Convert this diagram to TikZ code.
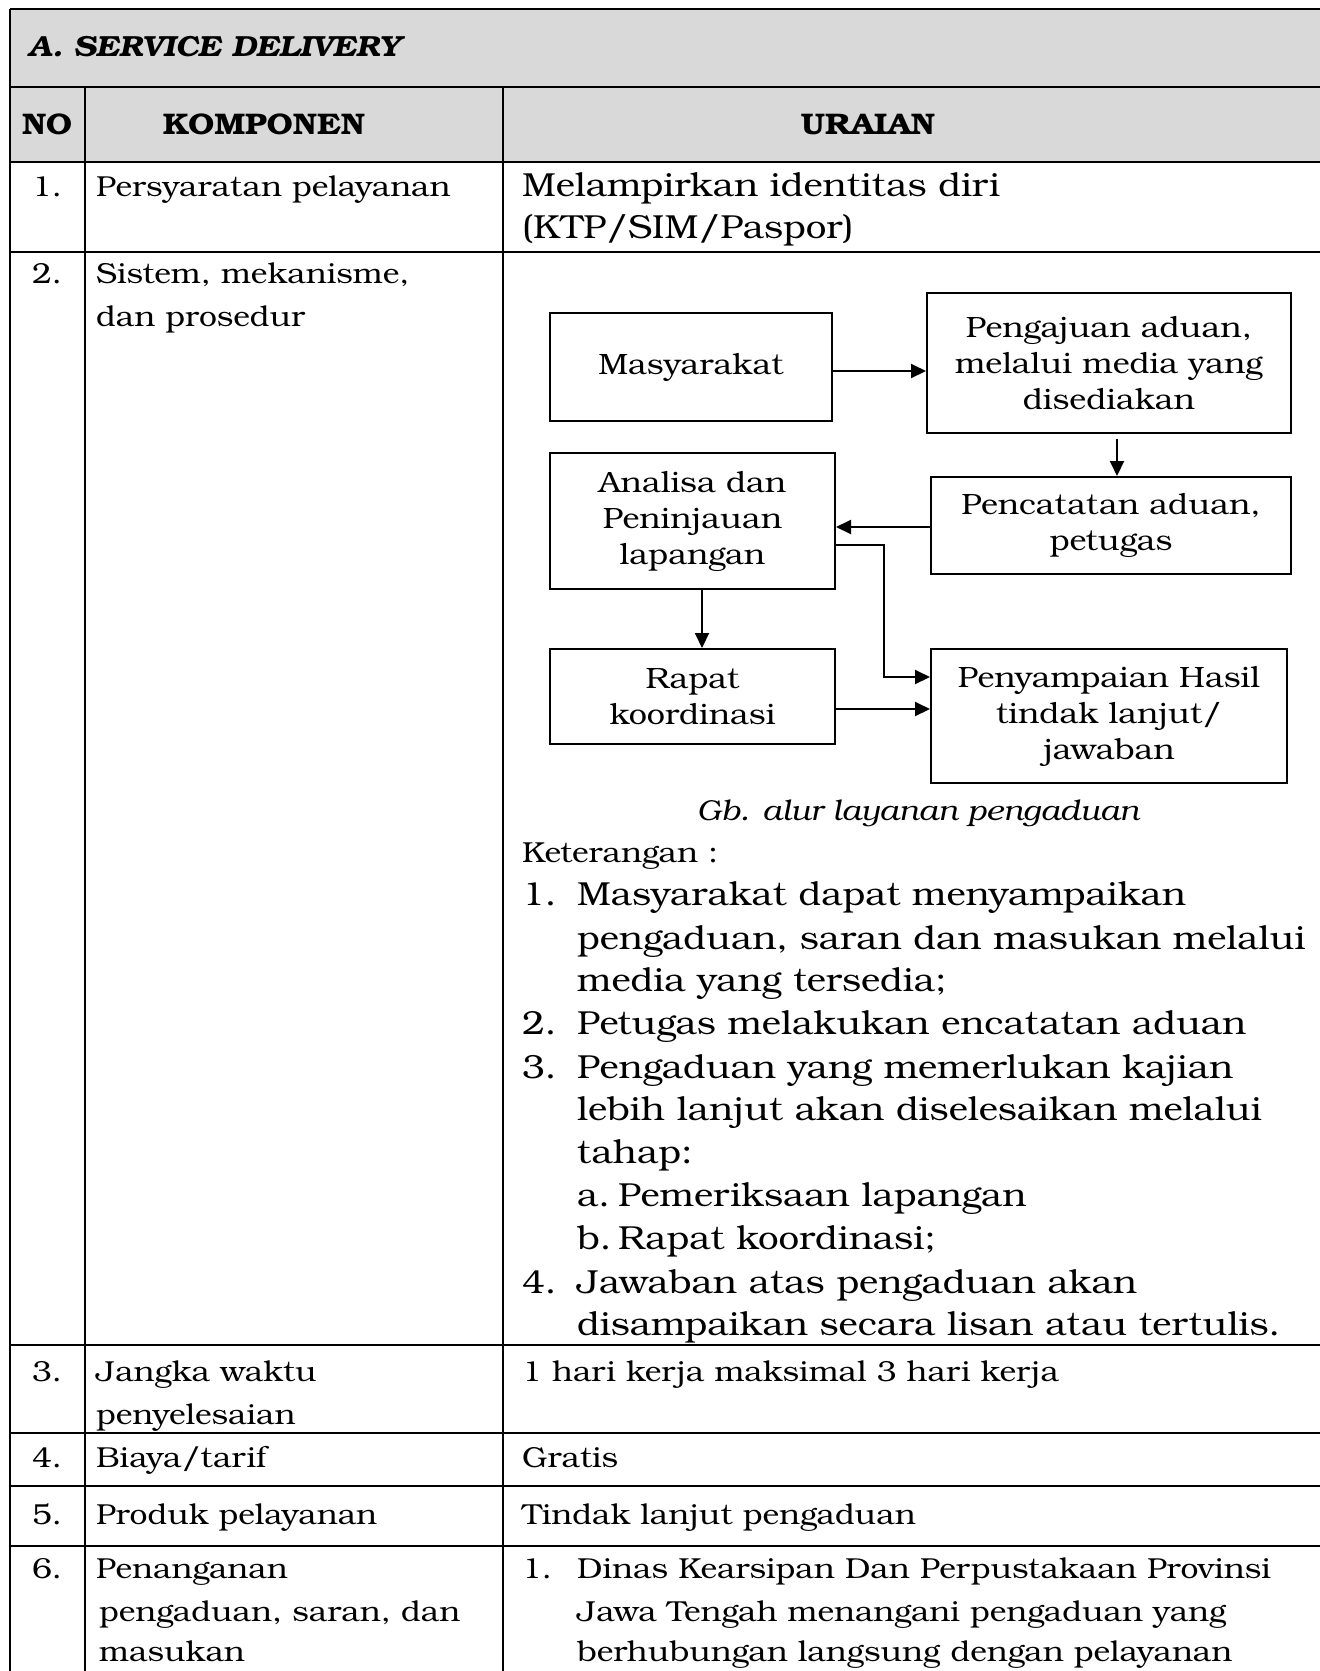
\documentclass[tikz,border=0pt]{standalone}
\usepackage{fontspec}
\setmainfont[FakeStretch=1.1]{TeX Gyre Bonum}
\usetikzlibrary{arrows.meta}
\definecolor{headgray}{HTML}{D9D9D9}

\begin{document}
\begin{tikzpicture}[x=1pt,y=-1pt,
  grid/.style={line width=2.6pt},
  box/.style={draw, line width=2pt, align=center, inner sep=0pt,
    font=\fontsize{29.4}{36}\selectfont},
  arr/.style={line width=2pt, -{Triangle[length=15pt,width=14pt]}},
  cell/.style={anchor=mid west, inner sep=0pt, font=\fontsize{28.9}{43}\selectfont},
  num/.style={anchor=mid, inner sep=0pt, font=\fontsize{28.9}{43}\selectfont},
  head/.style={anchor=mid, inner sep=0pt, font=\fontsize{29.8}{36}\selectfont\bfseries},
  item/.style={anchor=mid west, inner sep=0pt, font=\fontsize{33.3}{43}\selectfont},
]
\useasboundingbox (0,0) rectangle (1320,1671);

% header bands
\fill[headgray] (10,9) rectangle (1330,162);

% table rules
\draw[grid] (10,9) -- (1330,9);
\draw[grid] (10,87) -- (1330,87);
\draw[grid] (10,162) -- (1330,162);
\draw[grid] (10,252) -- (1330,252);
\draw[grid] (10,1345) -- (1330,1345);
\draw[grid] (10,1433) -- (1330,1433);
\draw[grid] (10,1486) -- (1330,1486);
\draw[grid] (10,1546) -- (1330,1546);
\draw[grid] (10,9) -- (10,1690);
\draw[grid] (85,87) -- (85,1690);
\draw[grid] (503,87) -- (503,1690);

% title and column heads
\node[anchor=mid west, inner sep=0pt, font=\fontsize{29.1}{36}\selectfont\bfseries\itshape] (title) at (28,54) {A. SERVICE DELIVERY};
\node[head] (hno) at (47,132) {NO};
\node[head] (hkomp) at (264,132) {KOMPONEN};
\node[head] (hur) at (868,132) {URAIAN};

% row 1
\node[num] (n1) at (47,194) {1.};
\node[cell] (k1) at (96,194) {Persyaratan pelayanan};
\node[item] (u1a) at (522,194) {Melampirkan identitas diri};
\node[item] (u1b) at (522,236) {(KTP/SIM/Paspor)};

% row 2
\node[num] (n2) at (47,281) {2.};
\node[cell] (k2a) at (96,281) {Sistem, mekanisme,};
\node[cell] (k2b) at (96,324) {dan prosedur};

% flow chart
\node[box, minimum width=282pt, minimum height=108pt] (mas) at (691,367) {Masyarakat};
\node[box, minimum width=364pt, minimum height=140pt] (peng) at (1109,363) {Pengajuan aduan,\\melalui media yang\\disediakan};
\node[box, minimum width=285pt, minimum height=136pt] (anal) at (692.5,521) {Analisa dan\\Peninjauan\\lapangan};
\node[box, minimum width=360pt, minimum height=97pt] (penc) at (1111,525.5) {Pencatatan aduan,\\petugas};
\node[box, minimum width=285pt, minimum height=95pt] (rapat) at (692.5,696.5) {Rapat\\koordinasi};
\node[box, minimum width=356pt, minimum height=134pt] (peny) at (1109,716) {Penyampaian Hasil\\tindak lanjut/\\jawaban};

\coordinate (pengout) at (1117,439);
\draw[arr] (mas.east |- 0,371) -- (peng.west |- 0,371);
\draw[arr] (pengout) -- (penc.north -| pengout);
\draw[arr] (penc.west |- 0,527) -- (anal.east |- 0,527);
\draw[arr] (anal.east |- 0,545) -| (884,677) -- (peny.west |- 0,677);
\draw[arr] (anal.south -| 702,0) -- (rapat.north -| 702,0);
\draw[arr] (rapat.east |- 0,709) -- (peny.west |- 0,709);

\node[anchor=mid, inner sep=0pt, font=\fontsize{28.8}{43}\selectfont\itshape] (cap) at (918,818) {Gb. alur layanan pengaduan};

% notes
\node[cell] (ket) at (522,860) {Keterangan :};
\node[item] (i1n) at (522,903) {1.};
\node[item] (i1a) at (577,903) {Masyarakat dapat menyampaikan};
\node[item] (i1b) at (577,947) {pengaduan, saran dan masukan melalui};
\node[item] (i1c) at (577,989) {media yang tersedia;};
\node[item] (i2n) at (522,1032) {2.};
\node[item] (i2a) at (577,1032) {Petugas melakukan encatatan aduan};
\node[item] (i3n) at (522,1076) {3.};
\node[item] (i3a) at (577,1076) {Pengaduan yang memerlukan kajian};
\node[item] (i3b) at (577,1118) {lebih lanjut akan diselesaikan melalui};
\node[item] (i3c) at (577,1161) {tahap:};
\node[item] (iaa) at (577,1204) {a.};
\node[item] (iat) at (618,1204) {Pemeriksaan lapangan};
\node[item] (ibb) at (577,1247) {b.};
\node[item] (ibt) at (618,1247) {Rapat koordinasi;};
\node[item] (i4n) at (522,1291) {4.};
\node[item] (i4a) at (577,1291) {Jawaban atas pengaduan akan};
\node[item] (i4b) at (577,1333) {disampaikan secara lisan atau tertulis.};

% row 3
\node[num] (n3) at (47,1379) {3.};
\node[cell] (k3a) at (96,1379) {Jangka waktu};
\node[cell] (k3b) at (96,1422) {penyelesaian};
\node[cell] (u3) at (522,1379) {1 hari kerja maksimal 3 hari kerja};

% row 4
\node[num] (n4) at (47,1465) {4.};
\node[cell] (k4) at (96,1465) {Biaya/tarif};
\node[cell] (u4) at (522,1465) {Gratis};

% row 5
\node[num] (n5) at (47,1522) {5.};
\node[cell] (k5) at (96,1522) {Produk pelayanan};
\node[cell] (u5) at (522,1522) {Tindak lanjut pengaduan};

% row 6
\node[num] (n6) at (47,1576) {6.};
\node[cell] (k6a) at (96,1576) {Penanganan};
\node[cell] (k6b) at (99,1619) {pengaduan, saran, dan};
\node[cell] (k6c) at (99,1659) {masukan};
\node[cell] (u6n) at (522,1576) {1.};
\node[cell] (u6a) at (577,1576) {Dinas Kearsipan Dan Perpustakaan Provinsi};
\node[cell] (u6b) at (577,1619) {Jawa Tengah menangani pengaduan yang};
\node[cell] (u6c) at (577,1659) {berhubungan langsung dengan pelayanan};
\end{tikzpicture}
\end{document}
